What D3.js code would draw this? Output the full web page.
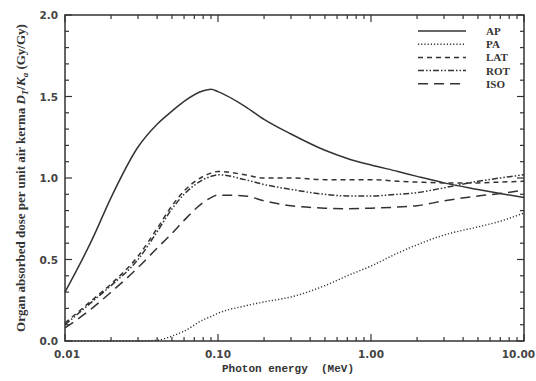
<!DOCTYPE html>
<html><head><meta charset="utf-8">
<script src="https://cdn.jsdelivr.net/npm/d3@7"></script>
<style>body{margin:0;background:#fff}svg{display:block}</style>
</head><body><svg id="c" width="536" height="381"></svg>
<script>
const energies = [0.01,0.015,0.02,0.03,0.04,0.05,0.06,0.08,0.09,0.1,0.15,0.2,0.3,0.5,0.7,1,1.5,2,3,5,7,10];
const AP  = [0.30,0.62,0.88,1.19,1.33,1.41,1.47,1.535,1.545,1.53,1.44,1.36,1.27,1.17,1.12,1.08,1.04,1.01,0.97,0.93,0.905,0.88];
const PA  = [0.0,0.0,0.0,0.0,0.005,0.03,0.06,0.13,0.15,0.17,0.215,0.24,0.27,0.34,0.40,0.46,0.54,0.59,0.65,0.70,0.735,0.785];
const LAT = [0.11,0.25,0.35,0.52,0.69,0.83,0.92,1.01,1.03,1.04,1.02,1.0,1.0,0.99,0.99,0.99,0.98,0.975,0.97,0.97,0.975,0.98];
const ROT = [0.10,0.24,0.34,0.50,0.67,0.81,0.90,0.99,1.01,1.02,0.99,0.96,0.93,0.90,0.89,0.89,0.90,0.91,0.94,0.98,1.0,1.02];
const ISO = [0.08,0.2,0.3,0.45,0.57,0.66,0.74,0.85,0.88,0.895,0.89,0.86,0.83,0.815,0.812,0.815,0.822,0.83,0.86,0.89,0.905,0.925];
const seriesNames = ["AP","PA","LAT","ROT","ISO"];
const xTickLabels = ["0.01","0.10","1.00","10.00"];
const yTickLabels = ["0.0","0.5","1.0","1.5","2.0"];

const dashes = {AP:null, PA:"1.2,2", LAT:"5,4", ROT:"6,2,1.5,2,1.5,2", ISO:"10,6"};
const data = {AP, PA, LAT, ROT, ISO};

const svg = d3.select("#c");
const L=65, R=524, T=15, B=341;
const x = d3.scaleLog().domain([0.01,10]).range([L,R]);
const y = d3.scaleLinear().domain([0,2]).range([B,T]);
const ink = "#333";

// frame
svg.append("rect").attr("x",L).attr("y",T).attr("width",R-L).attr("height",B-T)
  .attr("fill","none").attr("stroke",ink).attr("stroke-width",1.5);

// x ticks
const minorX = [];
for (let d=-2; d<1; d++) for (let m=1; m<10; m++) minorX.push(m*Math.pow(10,d));
minorX.push(10);
const gx = svg.append("g");
minorX.forEach(v=>{
  const major = Math.abs(Math.log10(v)-Math.round(Math.log10(v)))<1e-9;
  const len = major?7:4;
  gx.append("line").attr("x1",x(v)).attr("x2",x(v)).attr("y1",B).attr("y2",B-len).attr("stroke",ink).attr("stroke-width",1.2);
  gx.append("line").attr("x1",x(v)).attr("x2",x(v)).attr("y1",T).attr("y2",T+len).attr("stroke",ink).attr("stroke-width",1.2);
});
const xMajors = [0.01,0.1,1,10];
xMajors.forEach((v,i)=>{
  const last = i===xMajors.length-1;
  svg.append("text").attr("x",last?535:x(v)+(i==0?2:0)).attr("y",B+17).attr("text-anchor",last?"end":"middle")
    .attr("font-family","DejaVu Sans").attr("font-weight","bold").attr("font-size",10.5).attr("fill","#444")
    .text(xTickLabels[i]);
});
// y ticks
const gy = svg.append("g");
d3.range(0,21).forEach(i=>{
  const v=i/10, major = i%5===0, len = major?7:4;
  gy.append("line").attr("x1",L).attr("x2",L+len).attr("y1",y(v)).attr("y2",y(v)).attr("stroke",ink).attr("stroke-width",1.2);
  gy.append("line").attr("x1",R).attr("x2",R-len).attr("y1",y(v)).attr("y2",y(v)).attr("stroke",ink).attr("stroke-width",1.2);
});
[0,0.5,1,1.5,2].forEach((v,i)=>{
  svg.append("text").attr("x",L-7).attr("y",y(v)+4).attr("text-anchor","end")
    .attr("font-family","DejaVu Sans").attr("font-weight","bold").attr("font-size",10.5).attr("fill","#444")
    .text(yTickLabels[i]);
});

// axis titles
svg.append("text").attr("x",288).attr("y",372).attr("text-anchor","middle")
  .attr("font-family","Liberation Mono").attr("font-weight","bold").attr("font-size",11).attr("fill","#333")
  .attr("xml:space","preserve").text("Photon energy  (MeV)");
const yt = svg.append("text").attr("transform","translate(25,178) rotate(-90)").attr("text-anchor","middle")
  .attr("font-family","Liberation Serif").attr("font-weight","bold").attr("font-size",13).attr("fill","#333");
yt.append("tspan").text("Organ absorbed dose per unit air kerma ");
yt.append("tspan").attr("font-style","italic").text("D");
yt.append("tspan").attr("font-style","italic").attr("font-size",9).attr("dy",3).text("T");
yt.append("tspan").attr("dy",-3).text("/");
yt.append("tspan").attr("font-style","italic").text("K");
yt.append("tspan").attr("font-style","italic").attr("font-size",9).attr("dy",3).text("a");
yt.append("tspan").attr("dy",-3).text(" (Gy/Gy)");

// curves
const line = d3.line().x(d=>x(d[0])).y(d=>y(d[1])).curve(d3.curveMonotoneX);
seriesNames.forEach(n=>{
  const pts = energies.map((e,i)=>[e,data[n][i]]);
  svg.append("path").attr("d",line(pts)).attr("fill","none").attr("stroke",ink)
    .attr("stroke-width",n==="PA"?1.4:1.5).attr("stroke-dasharray",dashes[n]);
});

// legend
const ly0 = 31, ldy = 13.2;
seriesNames.forEach((n,i)=>{
  const yy = ly0 + i*ldy;
  svg.append("line").attr("x1",418).attr("x2",466).attr("y1",yy).attr("y2",yy)
    .attr("stroke",ink).attr("stroke-width",1.5).attr("stroke-dasharray",dashes[n]);
  svg.append("text").attr("x",486).attr("y",yy+4).attr("font-family","Liberation Serif").attr("font-weight","bold")
    .attr("font-size",11).attr("fill","#333").text(n);
});
</script></body></html>
